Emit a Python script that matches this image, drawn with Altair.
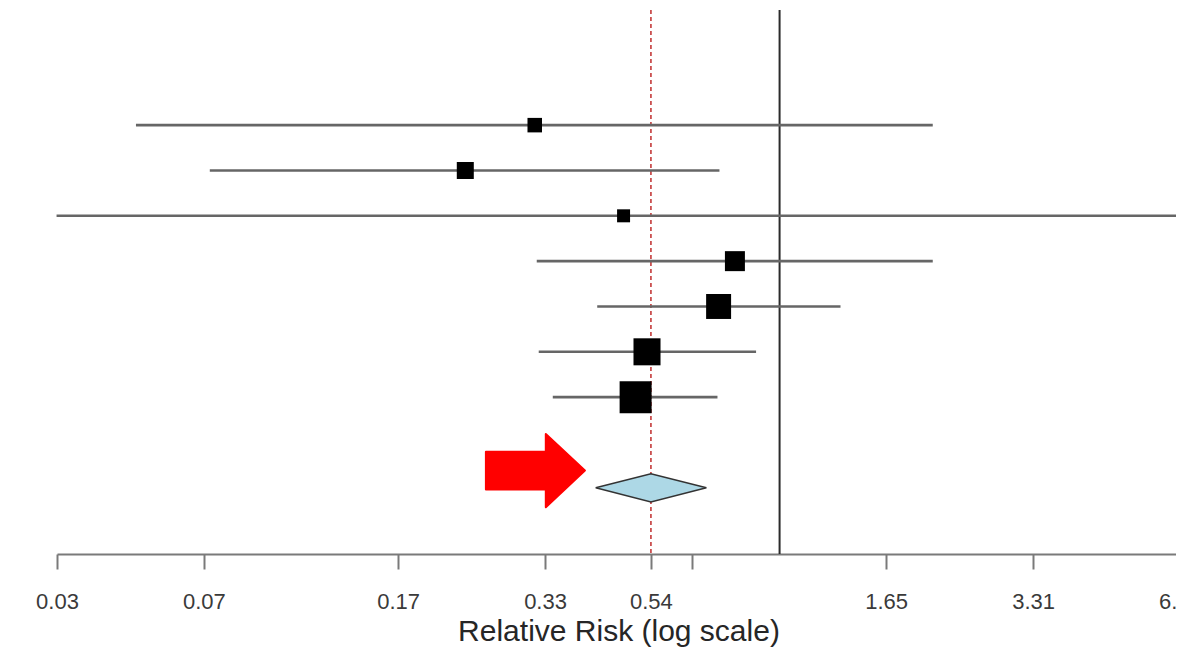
import altair as alt
import pandas as pd

# ---- data (relative risks, log scale) ----
study_row = [7, 6, 5, 4, 3, 2, 1]
rr_est = [0.315, 0.227, 0.479, 0.810, 0.750, 0.535, 0.507]
ci_low = [0.048, 0.068, 0.033, 0.318, 0.423, 0.321, 0.343]
ci_high = [2.06, 0.753, 7.5, 2.06, 1.333, 0.895, 0.746]
weight = [6.1, 8.4, 4.9, 11.6, 18.1, 21.2, 29.7]

pooled_row = -1
pooled_est = 0.545
pooled_low = 0.420
pooled_high = 0.708

null_value = 1.0

tick_values = [0.03307, 0.06614, 0.16535, 0.3307, 0.545, 0.6614, 1.6535, 3.307, 6.614]
tick_labels = ["0.03", "0.07", "0.17", "0.33", "0.54", "", "1.65", "3.31", "6.61"]

arrow_x = [0.316]
arrow_y = [-0.62]

# ---- tables ----
studies = pd.DataFrame({"row": study_row, "est": rr_est, "lo": ci_low,
                        "hi": ci_high, "weight": weight})
DIAMOND_HALF = 0.31
diamond = pd.DataFrame({
    "x": [pooled_low, pooled_est, pooled_high],
    "y": [pooled_row, pooled_row + DIAMOND_HALF, pooled_row],
    "y2": [pooled_row, pooled_row - DIAMOND_HALF, pooled_row],
})
nullline = pd.DataFrame({"x": [null_value]})
pooledline = pd.DataFrame({"x": [pooled_est]})
arrow = pd.DataFrame({"x": arrow_x, "y": arrow_y})

FONT = "Liberation Sans"
label_expr = ("[" + ",".join(f"'{l}'" for l in tick_labels) + "][indexof(["
              + ",".join(repr(v) for v in tick_values) + "], datum.value)]")

xscale = alt.Scale(type="log", domain=[tick_values[0], tick_values[-1]], nice=False)
yscale = alt.Scale(domain=[-2.46, 9.54], nice=False, zero=False)
xaxis = alt.Axis(values=tick_values, labelExpr=label_expr, grid=False,
                 tickSize=15, tickWidth=2, tickColor="#7a7a7a",
                 domainColor="#7a7a7a", domainWidth=2,
                 labelFontSize=22, labelColor="#3a3a3a", labelFont=FONT,
                 labelPadding=22, labelFlush=False, labelOverlap=False, labelBound=False,
                 titleFontSize=30, titleColor="#262626", titleFont=FONT,
                 titleFontWeight="normal", titlePadding=4)
TITLE = "Relative Risk (log scale)"


def X(field):
    return alt.X(f"{field}:Q", scale=xscale, axis=xaxis, title=TITLE)


def Y(field):
    return alt.Y(f"{field}:Q", scale=yscale, axis=None)


null_rule = alt.Chart(nullline).mark_rule(color="#2b2b2b", strokeWidth=2).encode(x=X("x"))
pooled_rule = alt.Chart(pooledline).mark_rule(
    color="#c43a3a", strokeWidth=1.6, strokeDash=[4, 3]).encode(x=X("x"))

ci = alt.Chart(studies).mark_rule(color="#666666", strokeWidth=2.6, clip=False).encode(
    x=X("lo"), x2="hi", y=Y("row"))

squares = alt.Chart(studies).mark_square(color="black", filled=True, opacity=1).encode(
    x=X("est"), y=Y("row"),
    size=alt.Size("weight:Q", scale=alt.Scale(domain=[0, 100], range=[0, 3446]), legend=None))

dia = alt.Chart(diamond).mark_area(fill="#add8e6", stroke="#333333", strokeWidth=1.5,
                                   opacity=1, fillOpacity=1).encode(
    x=X("x"), y=Y("y"), y2="y2")

ARROW_PATH = "M-1,-0.38L0.21,-0.38L0.21,-0.74L1,0L0.21,0.74L0.21,0.38L-1,0.38Z"
arr = alt.Chart(arrow).mark_point(shape=ARROW_PATH, size=9801, filled=True,
                                  fill="#ff0000", color="#ff0000", opacity=1,
                                  stroke="#ff0000", strokeWidth=2,
                                  strokeJoin="round").encode(x=X("x"), y=Y("y"))

chart = alt.layer(null_rule, pooled_rule, ci, squares, dia, arr).properties(
    width=1123, height=544,
    autosize=alt.AutoSizeParams(type="none"),
    padding={"left": 49, "top": 2, "right": -4, "bottom": 95},
    background="white",
).configure(font=FONT).configure_view(stroke=None, strokeWidth=0)

chart.save("out.html", embed_options={"renderer": "svg", "actions": False})
